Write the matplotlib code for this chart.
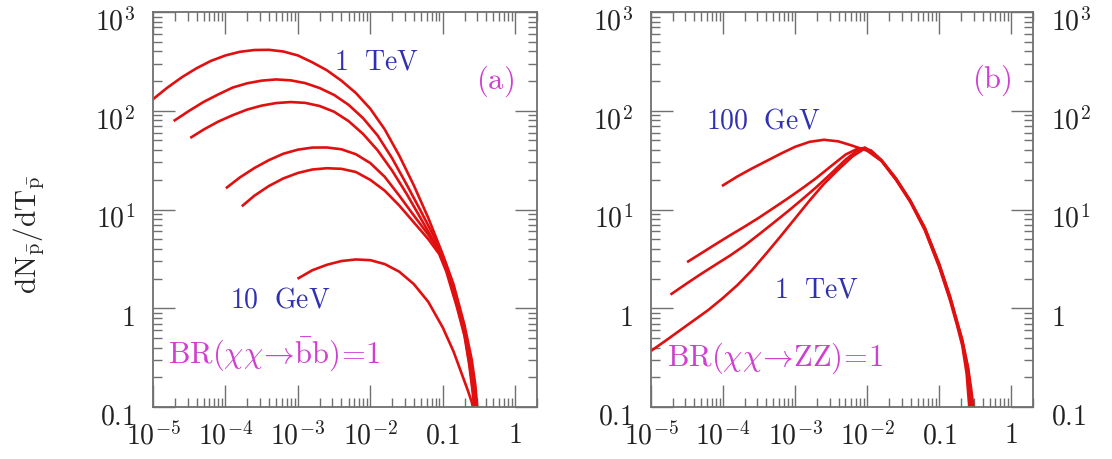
import numpy as np
import matplotlib
matplotlib.use("Agg")
import matplotlib.pyplot as plt
import matplotlib.transforms as mtransforms
from matplotlib.ticker import FixedLocator, FixedFormatter, LogLocator, NullFormatter

plt.rcParams['mathtext.fontset'] = 'cm'
plt.rcParams['font.family'] = 'serif'
plt.rcParams['font.serif'] = ['DejaVu Serif']

# values, stored as log10(x) and log10(dN/dT)

# ---- panel (a): BR(chi chi -> b bbar) = 1 ----
bb_1000_lx = [-5.0, -4.8, -4.6, -4.4, -4.2, -4.0, -3.8, -3.6, -3.4, -3.2, -3.0, -2.8, -2.6,
              -2.4, -2.2, -2.0, -1.8, -1.6, -1.4, -1.2, -1.0, -0.85, -0.7, -0.6, -0.55, -0.52]
bb_1000_ly = [2.117, 2.235, 2.34, 2.43, 2.505, 2.56, 2.597, 2.615, 2.617, 2.600, 2.560, 2.490, 2.410,
              2.305, 2.180, 2.02, 1.81, 1.545, 1.245, 0.915, 0.545, 0.24, -0.17, -0.52, -0.78, -1.03]

bb_500_lx = [-4.7, -4.5, -4.3, -4.1, -3.9, -3.7, -3.5, -3.3, -3.1, -2.9, -2.7, -2.5, -2.3,
             -2.1, -1.9, -1.7, -1.5, -1.3, -1.1, -0.95, -0.8, -0.7, -0.62, -0.57, -0.535]
bb_500_ly = [1.903, 2.00, 2.09, 2.165, 2.235, 2.278, 2.305, 2.317, 2.308, 2.28, 2.23, 2.16, 2.06,
             1.925, 1.75, 1.52, 1.255, 0.98, 0.695, 0.43, 0.06, -0.22, -0.55, -0.80, -1.03]

bb_300_lx = [-4.47, -4.3, -4.1, -3.9, -3.7, -3.5, -3.3, -3.1, -2.9, -2.7, -2.5, -2.3, -2.1,
             -1.9, -1.7, -1.5, -1.3, -1.1, -0.95, -0.8, -0.7, -0.62, -0.575, -0.545]
bb_300_ly = [1.732, 1.81, 1.89, 1.955, 2.012, 2.052, 2.078, 2.088, 2.08, 2.048, 1.99, 1.895, 1.765,
             1.6, 1.395, 1.16, 0.905, 0.65, 0.41, 0.04, -0.24, -0.57, -0.82, -1.03]

bb_100_lx = [-3.98, -3.8, -3.6, -3.4, -3.2, -3.0, -2.8, -2.6, -2.4, -2.2, -2.0, -1.8, -1.6,
             -1.4, -1.2, -1.05, -0.95, -0.8, -0.7, -0.63, -0.585, -0.555]
bb_100_ly = [1.223, 1.325, 1.42, 1.50, 1.565, 1.606, 1.627, 1.628, 1.61, 1.56, 1.47, 1.33, 1.14,
             0.94, 0.745, 0.58, 0.40, 0.02, -0.26, -0.56, -0.82, -1.03]

bb_50_lx = [-3.76, -3.6, -3.4, -3.2, -3.0, -2.8, -2.6, -2.4, -2.2, -2.0, -1.8, -1.6, -1.4,
            -1.2, -1.05, -0.95, -0.8, -0.7, -0.635, -0.59, -0.56]
bb_50_ly = [1.041, 1.14, 1.238, 1.315, 1.37, 1.405, 1.418, 1.412, 1.38, 1.30, 1.19, 1.04, 0.87,
            0.70, 0.55, 0.37, 0.0, -0.28, -0.57, -0.83, -1.03]

bb_10_lx = [-2.99, -2.8, -2.6, -2.4, -2.2, -2.0, -1.8, -1.6, -1.4, -1.2, -1.0, -0.85, -0.75,
            -0.65, -0.6, -0.575]
bb_10_ly = [0.305, 0.385, 0.44, 0.478, 0.494, 0.487, 0.447, 0.37, 0.245, 0.065, -0.195, -0.44,
            -0.64, -0.84, -0.95, -1.03]

# ---- panel (b): BR(chi chi -> ZZ) = 1 ----
zz_100_lx = [-4.0, -3.8, -3.6, -3.4, -3.2, -3.0, -2.8, -2.6, -2.4, -2.2, -2.0, -1.8, -1.6,
             -1.4, -1.2, -1.0, -0.85, -0.75, -0.68, -0.62, -0.58]
zz_100_ly = [1.245, 1.335, 1.415, 1.49, 1.565, 1.635, 1.685, 1.706, 1.69, 1.645, 1.595, 1.49, 1.30,
             1.075, 0.79, 0.415, 0.08, -0.18, -0.38, -0.66, -1.03]

zz_200_lx = [-4.484, -4.3, -4.1, -3.9, -3.7, -3.5, -3.3, -3.1, -2.9, -2.7, -2.5, -2.3, -2.15,
             -2.03, -1.925, -1.8, -1.6, -1.4, -1.2, -1.0, -0.85, -0.75, -0.68, -0.62, -0.56]
zz_200_ly = [0.474, 0.558, 0.65, 0.74, 0.827, 0.918, 1.015, 1.113, 1.215, 1.322, 1.44, 1.556, 1.61,
             1.625, 1.574, 1.492, 1.305, 1.08, 0.80, 0.43, 0.10, -0.16, -0.35, -0.60, -1.03]

zz_500_lx = [-4.714, -4.5, -4.3, -4.1, -3.9, -3.7, -3.5, -3.3, -3.1, -2.9, -2.7, -2.5, -2.3,
             -2.15, -2.03, -1.925, -1.8, -1.6, -1.4, -1.2, -1.0, -0.85, -0.75, -0.68, -0.6, -0.54]
zz_500_ly = [0.146, 0.253, 0.35, 0.443, 0.535, 0.636, 0.749, 0.865, 0.982, 1.104, 1.23, 1.365, 1.505,
             1.59, 1.625, 1.576, 1.495, 1.31, 1.085, 0.81, 0.44, 0.11, -0.15, -0.33, -0.62, -1.03]

zz_1000_lx = [-5.0, -4.8, -4.6, -4.4, -4.2, -4.0, -3.8, -3.6, -3.4, -3.2, -3.0, -2.8, -2.6,
              -2.4, -2.2, -2.05, -1.95, -1.8, -1.6, -1.4, -1.2, -1.0, -0.85, -0.75, -0.68,
              -0.6, -0.56, -0.52]
zz_1000_ly = [-0.432, -0.33, -0.225, -0.12, -0.015, 0.105, 0.235, 0.385, 0.555, 0.73, 0.91, 1.09, 1.26,
              1.405, 1.54, 1.61, 1.60, 1.50, 1.315, 1.09, 0.815, 0.45, 0.12, -0.14, -0.32,
              -0.6, -0.8, -1.03]

x_ticks = [1e-5, 1e-4, 1e-3, 1e-2, 0.1, 1]
x_labels = [r'$10^{-5}$', r'$10^{-4}$', r'$10^{-3}$', r'$10^{-2}$', r'$0.1$', r'$1$']
y_ticks = [0.1, 1, 10, 100, 1000]
y_labels = [r'$0.1$', r'$1$', r'$10^{1}$', r'$10^{2}$', r'$10^{3}$']

red = '#e01010'
blue = '#3030b0'
magenta = '#d040d0'
gray = '#707070'

fig = plt.figure(figsize=(11.12, 4.59), dpi=100)
ax_a = fig.add_axes([153 / 1112, 1 - 407 / 459, 384 / 1112, 395 / 459])
ax_b = fig.add_axes([651 / 1112, 1 - 407 / 459, 382 / 1112, 395 / 459])

off = mtransforms.ScaledTranslation(0, -7 / 100, fig.dpi_scale_trans)


def style_axes(ax, right_labels):
    ax.set_xscale('log')
    ax.set_yscale('log')
    ax.set_xlim(1e-5, 2.0)
    ax.set_ylim(0.1, 1000)
    ax.xaxis.set_major_locator(FixedLocator(x_ticks))
    ax.xaxis.set_major_formatter(FixedFormatter(x_labels))
    ax.yaxis.set_major_locator(FixedLocator(y_ticks))
    ax.yaxis.set_major_formatter(FixedFormatter(y_labels))
    ax.xaxis.set_minor_locator(LogLocator(base=10, subs=np.arange(2, 10), numticks=20))
    ax.yaxis.set_minor_locator(LogLocator(base=10, subs=np.arange(2, 10), numticks=20))
    ax.xaxis.set_minor_formatter(NullFormatter())
    ax.yaxis.set_minor_formatter(NullFormatter())
    ax.tick_params(which='both', direction='in', top=True, right=True, color=gray,
                   width=1.0, labelsize=20, labelcolor='#222222')
    ax.tick_params(which='major', length=15.5)
    ax.tick_params(which='minor', length=6.5)
    ax.tick_params(axis='x', pad=11)
    ax.tick_params(axis='y', pad=13, labelright=right_labels)
    for sp in ax.spines.values():
        sp.set_color(gray)
        sp.set_linewidth(1.3)
    for tk in ax.yaxis.get_major_ticks():
        tk.label1.set_transform(tk.label1.get_transform() + off)
        tk.label2.set_transform(tk.label2.get_transform() + off)


style_axes(ax_a, False)
style_axes(ax_b, True)

lw = 1.9
for lx, ly in [(bb_1000_lx, bb_1000_ly), (bb_500_lx, bb_500_ly), (bb_300_lx, bb_300_ly),
               (bb_100_lx, bb_100_ly), (bb_50_lx, bb_50_ly), (bb_10_lx, bb_10_ly)]:
    ax_a.plot(10 ** np.array(lx), 10 ** np.array(ly), color=red, lw=lw)

for lx, ly in [(zz_100_lx, zz_100_ly), (zz_200_lx, zz_200_ly), (zz_500_lx, zz_500_ly),
               (zz_1000_lx, zz_1000_ly)]:
    ax_b.plot(10 ** np.array(lx), 10 ** np.array(ly), color=red, lw=lw)

fs = 20
ax_a.text(0.583, 0.873, r'$\mathrm{1\ \ TeV}$', color=blue, fontsize=fs,
          transform=ax_a.transAxes, ha='center', va='center')
ax_a.text(0.891, 0.825, r'$\mathrm{(a)}$', color=magenta, fontsize=22,
          transform=ax_a.transAxes, ha='center', va='center')
ax_a.text(0.331, 0.271, r'$\mathrm{10\ \ GeV}$', color=blue, fontsize=fs,
          transform=ax_a.transAxes, ha='center', va='center')
ax_a.text(0.039, 0.132, r'$\mathrm{BR}(\chi\chi\!\rightarrow\!\bar{\mathrm{b}}\mathrm{b})\!=\!1$',
          color=magenta, fontsize=22, transform=ax_a.transAxes, ha='left', va='center')

ax_b.text(0.293, 0.723, r'$\mathrm{100\ \ GeV}$', color=blue, fontsize=fs,
          transform=ax_b.transAxes, ha='center', va='center')
ax_b.text(0.893, 0.827, r'$\mathrm{(b)}$', color=magenta, fontsize=22,
          transform=ax_b.transAxes, ha='center', va='center')
ax_b.text(0.432, 0.297, r'$\mathrm{1\ \ TeV}$', color=blue, fontsize=fs,
          transform=ax_b.transAxes, ha='center', va='center')
ax_b.text(0.042, 0.124, r'$\mathrm{BR}(\chi\chi\!\rightarrow\!\mathrm{ZZ})\!=\!1$',
          color=magenta, fontsize=22, transform=ax_b.transAxes, ha='left', va='center')

fig.text(0.026, 0.49, r'$\mathrm{dN}_{\bar{\mathrm{p}}}/\mathrm{dT}_{\bar{\mathrm{p}}}$',
         rotation=90, fontsize=21, color='#222222', ha='center', va='center')

fig.savefig('out.png', dpi=100)
